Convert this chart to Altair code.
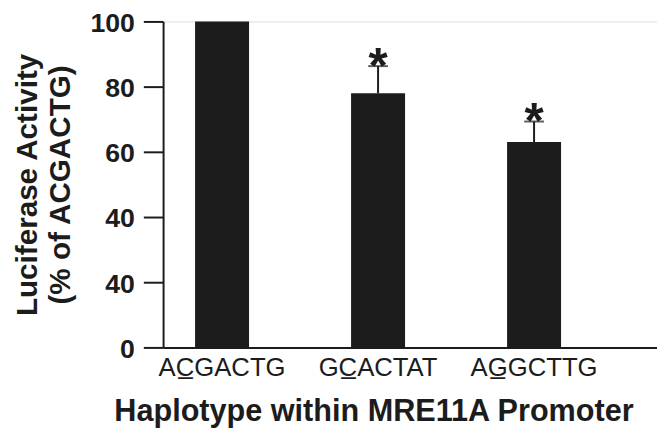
import altair as alt
import pandas as pd

haplotypes = ["AC\u0332GACTG", "GC\u0332ACTAT", "AG\u0332GCTTG"]
means = [100, 78, 63]
errors = [0, 8.3, 6.3]
marks = ["", "*", "*"]

df = pd.DataFrame({"hap": haplotypes, "mean": means, "err": errors, "sig": marks})
df["upper"] = df["mean"] + df["err"]

FONT = "Liberation Sans"
INK = "#1c1c1c"

x = alt.X("hap:N", sort=haplotypes,
          scale=alt.Scale(paddingInner=0.654, paddingOuter=0.41, align=0.25),
          axis=alt.Axis(title="Haplotype within MRE11A Promoter", labelAngle=0,
                        ticks=False, labelPadding=7, labelFontSize=26,
                        labelFontWeight="normal", labelColor=INK,
                        domainWidth=2, domainColor=INK,
                        titleFontSize=31, titleFontWeight="bold", titleColor=INK,
                        titleX=213, titleY=74, titleBaseline="alphabetic",
                        titleAnchor="middle"))

y = alt.Y("mean:Q", scale=alt.Scale(domain=[0, 100], nice=False),
          axis=alt.Axis(title=["Luciferase Activity", "(% of ACGACTG)"],
                        values=[0, 20, 40, 60, 80, 100],
                        labelExpr="datum.value == 20 ? '40' : datum.label",
                        grid=False, tickSize=20, tickWidth=2, tickColor=INK,
                        domainWidth=2, domainColor=INK,
                        labelPadding=9, labelFontSize=27, labelFontWeight="bold",
                        labelColor=INK, labelOffset=2,
                        titleFontSize=30, titleFontWeight="bold", titleColor=INK,
                        titleAngle=-90, titleX=-137, titleY=165,
                        titleBaseline="middle", titleAlign="center",
                        titleLineHeight=33))

base = alt.Chart(df)

bars = base.mark_bar(color=INK).encode(x=x, y=y)

err_df = base.transform_filter("datum.err > 0")
stems = err_df.mark_rule(color=INK, strokeWidth=2).encode(
    x=alt.X("hap:N", sort=haplotypes), y="mean:Q", y2="upper:Q")
caps = err_df.mark_tick(color=INK, thickness=2, size=20, orient="horizontal").encode(
    x=alt.X("hap:N", sort=haplotypes), y="upper:Q")
stars = err_df.mark_text(color=INK, fontSize=50, fontWeight="bold", font=FONT,
                         baseline="alphabetic", dy=17).encode(
    x=alt.X("hap:N", sort=haplotypes), y="upper:Q", text="sig:N")

chart = alt.layer(bars, stems, caps, stars).properties(
    width=500, height=330,
    autosize=alt.AutoSizeParams(type="none"),
    padding={"left": 157, "top": 11, "right": 0, "bottom": 82},
).configure_view(stroke=None).configure(font=FONT)

chart.save("out.html", embed_options={"renderer": "svg", "actions": False})
